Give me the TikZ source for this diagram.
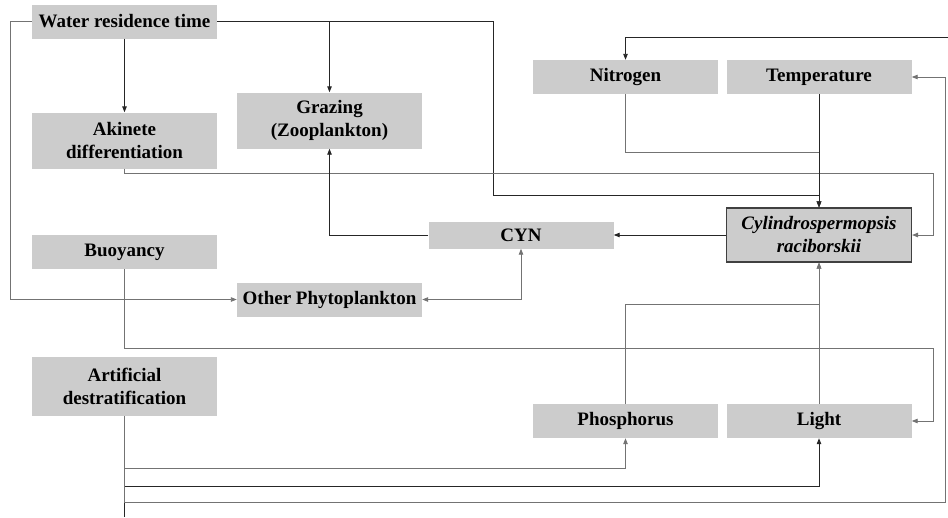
\documentclass[tikz,border=0pt]{standalone}
\usepackage{fontspec}
\setmainfont{Liberation Serif}
\usetikzlibrary{arrows.meta}
\tikzset{
  box/.style={fill=black!20, inner sep=0pt, minimum width=185pt, minimum height=34pt,
    font=\fontsize{19}{23}\selectfont\bfseries, align=center, text=black},
  tallbox/.style={box, minimum height=56pt},
  mainbox/.style={box, draw=black!75, line width=1.1pt, minimum height=54pt},
  dk/.style={draw=black!85, line width=0.9pt},
  lt/.style={draw=black!55, line width=0.9pt},
  arr/.style={-{Triangle[length=6pt,width=4.5pt]}},
  barr/.style={{Triangle[length=6pt,width=4.5pt]}-{Triangle[length=6pt,width=4.5pt]}}
}
\begin{document}
\begin{tikzpicture}[x=1pt,y=-1pt]
\useasboundingbox (0,0) rectangle (948,517);
% nodes
\node[box] (wrt) at (124.5,21.5) {Water residence time};
\node[tallbox] (aki) at (124.5,140.5) {Akinete\\differentiation};
\node[tallbox] (graz) at (329.5,120.5) {Grazing\\(Zooplankton)};
\node[box] (buoy) at (124.5,252) {Buoyancy};
\node[box] (other) at (329.5,299.5) {Other Phytoplankton};
\node[box, minimum height=27pt] (cyn) at (521,235) {CYN};
\node[mainbox] (cyl) at (819,235) {\itshape Cylindrospermopsis\\\itshape raciborskii};
\node[box] (nit) at (625.5,77) {Nitrogen};
\node[box] (temp) at (819,77) {Temperature};
\node[tallbox, minimum height=59pt] (art) at (124.5,386.5) {Artificial\\destratification};
\node[box] (phos) at (625.5,421) {Phosphorus};
\node[box] (light) at (819,421) {Light};
\coordinate (tr) at (948,37);
\coordinate (bot) at (124.5,517);
% connectors from water residence time
\draw[dk,arr] (wrt.south) -- (aki.north);
\draw[dk,arr] (wrt.east) -| (graz.north);
\draw[dk,arr] (wrt.east) -| (493,195) -| (cyl.north);
\draw[lt,arr] (wrt.west) -| (10,299.5) -- (other.west);
% akinete
\draw[lt,arr] (aki.south) |- (933,173) |- (cyl.east);
% nitrogen and temperature
\draw[lt,arr] (nit.south) |- (819,152) -- (cyl.north);
\draw[dk,arr] (temp.south) -- (cyl.north);
\draw[dk,arr] (tr) -| (nit.north);
% buoyancy
\draw[lt,arr] (buoy.south) |- (933,348) |- (light.east);
% phosphorus and light
\draw[lt,arr] (phos.north) |- (819,304) -- (cyl.south);
\draw[lt,arr] (light.north) -- (cyl.south);
% cylindrospermopsis and CYN
\draw[dk,arr] (cyl.west) -- (cyn.east);
\draw[dk,arr] (cyn.west) -| (graz.south);
\draw[lt,barr] (cyn.south) |- (other.east);
% artificial destratification
\draw[dk] (art.south) -- (bot);
\draw[lt,arr] (art.south) |- (625.5,468) -- (phos.south);
\draw[dk,arr] (art.south) |- (819,486) -- (light.south);
\draw[lt,arr] (art.south) |- (945,502) |- (temp.east);
\end{tikzpicture}
\end{document}
